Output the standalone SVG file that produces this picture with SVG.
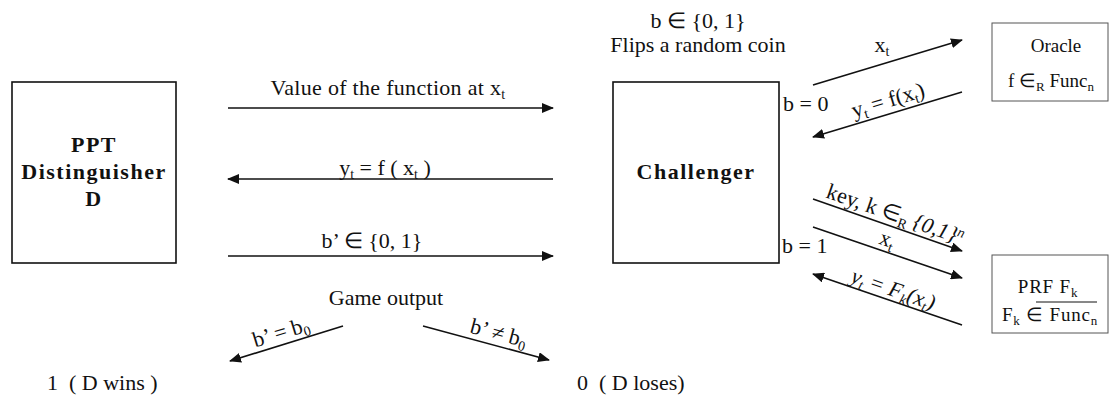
<svg xmlns="http://www.w3.org/2000/svg" width="1111" height="402" viewBox="0 0 1111 402">
<style>
text{font-family:"Liberation Serif","Times New Roman",serif;font-size:22px;fill:#111}
.b{font-weight:bold;letter-spacing:1.5px}
.m{text-anchor:middle}
.s{font-size:19px}
.sub{font-size:14px}
.ss{font-size:13px}
.it{font-style:italic}
.box{fill:#fff;stroke:#111;stroke-width:1.6}
.sbox{fill:#fff;stroke:#555;stroke-width:1}
.c line{stroke:#111;stroke-width:1.6;marker-end:url(#ah)}
</style>
<defs>
<marker id="ah" markerWidth="12" markerHeight="10" refX="11" refY="5" orient="auto" markerUnits="userSpaceOnUse">
<path d="M0,0 L12,5 L0,10 z" fill="#111"/>
</marker>
</defs>
<g id="distinguisher">
<rect class="box" x="12" y="82" width="164" height="181"/>
<text class="b m" x="94" y="152">PPT</text>
<text class="b m" x="94" y="179">Distinguisher</text>
<text class="b m" x="94" y="206">D</text>
</g>
<g id="challenger">
<rect class="box" x="613" y="82" width="166" height="181"/>
<text class="b m" x="696" y="179">Challenger</text>
</g>
<g id="coin">
<text class="m" x="698" y="28">b ∈ {0, 1}</text>
<text class="m" x="698" y="52">Flips a random coin</text>
</g>
<g id="oracle">
<rect class="sbox" x="992" y="23" width="116" height="78"/>
<text class="s m" x="1056" y="52">Oracle</text>
<text class="s m" x="1051" y="87">f ∈<tspan class="ss" dy="4">R</tspan><tspan dy="-4"> Func</tspan><tspan class="ss" dy="4">n</tspan></text>
</g>
<g id="prf">
<rect class="sbox" x="992" y="255" width="116" height="78"/>
<text class="s m" x="1048" y="293" letter-spacing="0.8">PRF F<tspan class="ss" dy="4">k</tspan></text>
<text class="s m" x="1050" y="321" letter-spacing="0.8">F<tspan class="ss" dy="4">k</tspan><tspan dy="-4"> ∈ Func</tspan><tspan class="ss" dy="4">n</tspan></text>
<line x1="1036" y1="302" x2="1097" y2="302" stroke="#111" stroke-width="1"/>
</g>
<g id="results">
<text x="47" y="390" xml:space="preserve">1  ( D wins )</text>
<text x="577" y="390" xml:space="preserve">0  ( D loses)</text>
<text class="m" x="386" y="305">Game output</text>
</g>
<g id="connectors" class="c">
<line x1="228" y1="108" x2="553" y2="108"/>
<line x1="553" y1="179" x2="228" y2="179"/>
<line x1="228" y1="256" x2="553" y2="256"/>
<line x1="813" y1="85" x2="962" y2="40"/>
<line x1="962" y1="92" x2="813" y2="137"/>
<line x1="813" y1="199" x2="962" y2="251"/>
<line x1="813" y1="227" x2="962" y2="278"/>
<line x1="962" y1="325" x2="813" y2="274"/>
<line x1="343" y1="326" x2="230" y2="361"/>
<line x1="423" y1="326" x2="549" y2="360"/>
</g>
<g id="labels">
<text class="m" letter-spacing="0.3" x="388" y="95">Value of the function at x<tspan class="sub" dy="4">t</tspan></text>
<text class="m" x="385" y="175">y<tspan class="sub" dy="4">t</tspan><tspan dy="-4"> = f ( x</tspan><tspan class="sub" dy="4">t</tspan><tspan dy="-4"> )</tspan></text>
<text class="m" x="372" y="248">b’ ∈ {0, 1}</text>
<text x="783" y="111">b = 0</text>
<text x="782" y="253">b = 1</text>
<text class="m" x="882" y="52">x<tspan class="sub" dy="4">t</tspan></text>
<text class="m" transform="translate(890,107) rotate(-16.8)">y<tspan class="sub" dy="4">t</tspan><tspan dy="-4"> = f(x</tspan><tspan class="sub" dy="4">t</tspan><tspan dy="-4">)</tspan></text>
<text class="m" transform="translate(893,221) rotate(19.2)">key, k ∈<tspan class="sub" dy="4">R</tspan><tspan class="it" dy="-4"> {0,1}</tspan><tspan class="sub it" dy="-7">n</tspan></text>
<text class="m" transform="translate(885,246) rotate(19)">x<tspan class="sub" dy="4">t</tspan></text>
<text class="m it" transform="translate(891,296) rotate(19)">y<tspan class="sub" dy="4">t</tspan><tspan dy="-4"> = F</tspan><tspan class="sub" dy="4">k</tspan><tspan dy="-4">(x</tspan><tspan class="sub" dy="4">t</tspan><tspan dy="-4">)</tspan></text>
<text class="m" transform="translate(283,339) rotate(-17)">b’ = b<tspan class="sub" dy="4">0</tspan></text>
<text class="m" transform="translate(497,340) rotate(15)">b’ ≠ b<tspan class="sub" dy="4">0</tspan></text>
</g>
</svg>
